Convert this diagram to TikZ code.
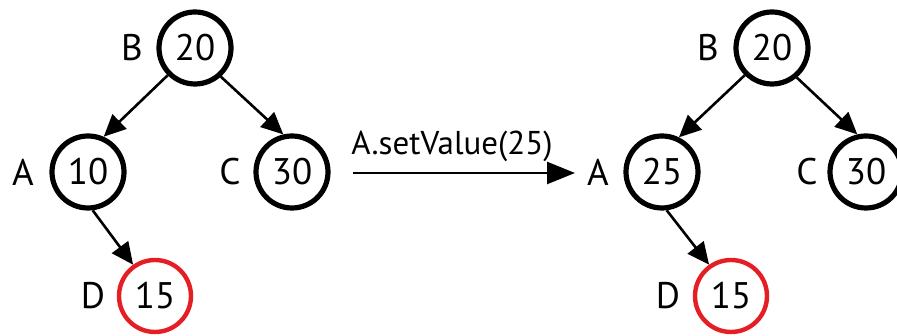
\documentclass[tikz,border=0pt]{standalone}
\usepackage{fontspec}
\setmainfont{PT Sans}
\usetikzlibrary{arrows.meta}

\definecolor{markred}{RGB}{228,30,36}

\def\xunit{1pt}
\def\yunit{1pt}

\begin{document}
\begin{tikzpicture}[x=\xunit, y=\yunit,
  val/.style={circle, draw, line width=5.2pt, minimum size=72pt, inner sep=0pt, font=\fontsize{37}{37}\selectfont},
  changed/.style={val, draw=markred, line width=4.4pt},
  tag/.style={font=\fontsize{37}{37}\selectfont, inner sep=0pt},
  link/.style={line width=2.6pt, -{Triangle[length=22pt, width=20pt]}}]

\useasboundingbox (0,0) rectangle (897,336);

% ---- before: tree with A = 10 ----
\node[val] (b1) at (195,288) {20};
\node[val] (a1) at (88,164) {10};
\node[val] (c1) at (292,164) {30};
\node[changed] (d1) at (155,40) {15};
\node[tag] (nb1) at (132,288) {B};
\node[tag] (na1) at (23,164) {A};
\node[tag] (nc1) at (230,164) {C};
\node[tag] (nd1) at (93,40) {D};
\draw[link] (b1.225) -- (a1.66);
\draw[link] (b1.312) -- (c1.103);
\draw[link] (a1.277) -- (d1.125);

% ---- the call ----
\coordinate (s) at (353,163);
\coordinate (e) at (575,163);
\draw[line width=2.6pt, -{Triangle[length=28pt, width=22pt]}] (s) -- (e)
  node[midway, above=10pt, xshift=-12pt, font=\fontsize{33}{33}\selectfont, inner sep=0pt] (call) {A.setValue(25)};

% ---- after: tree with A = 25 ----
\node[val] (b2) at (772,288) {20};
\node[val] (a2) at (662,164) {25};
\node[val] (c2) at (866,164) {30};
\node[changed] (d2) at (731,40) {15};
\node[tag] (nb2) at (708,288) {B};
\node[tag] (na2) at (598,164) {A};
\node[tag] (nc2) at (807,164) {C};
\node[tag] (nd2) at (668,40) {D};
\draw[link] (b2.225) -- (a2.64);
\draw[link] (b2.310) -- (c2.103);
\draw[link] (a2.277) -- (d2.125);

\end{tikzpicture}
\end{document}
